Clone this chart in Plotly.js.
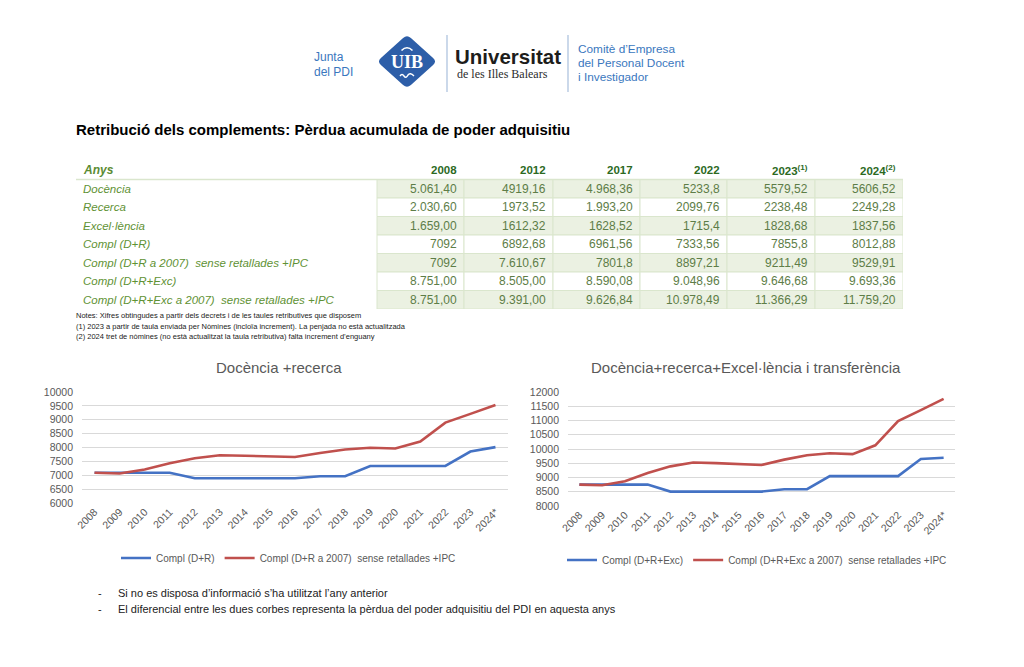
<!DOCTYPE html>
<html><head><meta charset="utf-8">
<script src="https://cdn.plot.ly/plotly-3.0.1.min.js"></script>
<style>html,body{margin:0;padding:0;background:#fff}#chart{width:1024px;height:667px}</style>
</head><body><div id="chart"></div>
<script>
// ---------- DATA ----------
const years = ['2008','2009','2010','2011','2012','2013','2014','2015','2016','2017','2018','2019','2020','2021','2022','2023','2024*'];
const complDR     = [7092,7092,7092,7092,6892.68,6892.68,6892.68,6892.68,6892.68,6961.56,6961.56,7333.56,7333.56,7333.56,7333.56,7855.8,8012.88];
const complDRIPC  = [7092,7065,7205,7430,7610.67,7720,7705,7670,7655,7801.8,7930,7990,7965,8215,8897.21,9211.49,9529.91];
const complDRE    = [8751,8751,8751,8751,8505,8505,8505,8505,8505,8590.08,8590.08,9048.96,9048.96,9048.96,9048.96,9646.68,9693.36];
const complDREIPC = [8751,8730,8870,9160,9391,9525,9505,9470,9440,9626.84,9780,9850,9820,10130,10978.49,11366.29,11759.2];

const tableYears = ['2008','2012','2017','2022','2023<sup>(1)</sup>','2024<sup>(2)</sup>'];
const rowLabels = ['Docència','Recerca','Excel·lència','Compl (D+R)','Compl (D+R a 2007)\u00a0 sense retallades +IPC','Compl (D+R+Exc)','Compl (D+R+Exc a 2007)\u00a0 sense retallades +IPC'];
const col2008 = ['5.061,40','2.030,60','1.659,00','7092','7092','8.751,00','8.751,00'];
const col2012 = ['4919,16','1973,52','1612,32','6892,68','7.610,67','8.505,00','9.391,00'];
const col2017 = ['4.968,36','1.993,20','1628,52','6961,56','7801,8','8.590,08','9.626,84'];
const col2022 = ['5233,8','2099,76','1715,4','7333,56','8897,21','9.048,96','10.978,49'];
const col2023 = ['5579,52','2238,48','1828,68','7855,8','9211,49','9.646,68','11.366,29'];
const col2024 = ['5606,52','2249,28','1837,56','8012,88','9529,91','9.693,36','11.759,20'];
const tableCols = [col2008, col2012, col2017, col2022, col2023, col2024];

const legendNames = ['Compl (D+R)','Compl (D+R a 2007)\u00a0 sense retallades +IPC','Compl (D+R+Exc)','Compl (D+R+Exc a 2007)\u00a0 sense retallades +IPC'];
const chartTitles = ['Docència +recerca','Docència+recerca+Excel·lència i transferència'];

// ---------- HELPERS ----------
const W = 1024, H = 667;
const px = x => x / W;
const py = y => 1 - y / H;
const FONT = 'Liberation Sans, Arial, sans-serif';
function ann(text, x, y, size, color, extra) {
  return Object.assign({text: text, x: px(x), y: py(y), xref: 'paper', yref: 'paper',
    xanchor: 'left', yanchor: 'middle', showarrow: false, align: 'left',
    font: {family: FONT, size: size, color: color}}, extra || {});
}
function diamondPath(cx, cy, a, b, t) {
  const V = [[cx, cy - b], [cx + a, cy], [cx, cy + b], [cx - a, cy]];
  let d = '';
  for (let i = 0; i < 4; i++) {
    const v = V[i], p = V[(i + 3) % 4], n = V[(i + 1) % 4];
    const s = [v[0] + t * (p[0] - v[0]), v[1] + t * (p[1] - v[1])];
    const e = [v[0] + t * (n[0] - v[0]), v[1] + t * (n[1] - v[1])];
    d += (i === 0 ? 'M' : 'L') + px(s[0]) + ',' + py(s[1]) + ' Q' + px(v[0]) + ',' + py(v[1]) + ' ' + px(e[0]) + ',' + py(e[1]) + ' ';
  }
  return d + 'Z';
}

// ---------- TABLE (drawn on its own hidden axes: x in px units, y in row units) ----------
const colEdges = [0, 301, 388, 477, 564, 651, 739, 827];
const GREEN_FILL = '#ebf1e2', GRID = '#dae6cd';
const tableShapes = [];
const tableAnns = [];
const tAnn = (text, x, y, xanchor, size, color) => ({text: text, x: x, y: y, xref: 'x3', yref: 'y3', xanchor: xanchor, yanchor: 'middle',
  showarrow: false, font: {family: FONT, size: size, color: color}});
tableAnns.push(tAnn('<b><i>Anys</i></b>', 5, 0.5, 'left', 12, '#5b8c33'));
tableYears.forEach((y, c) => tableAnns.push(tAnn('<b>' + y + '</b>', colEdges[c + 2] - 5, 0.5, 'right', 11.5, '#2d6a1f')));
rowLabels.forEach((lab, r) => {
  tableAnns.push(tAnn('<i>' + lab + '</i>', 5, r + 1.5, 'left', 11.5, '#5f9235'));
  tableCols.forEach((col, c) => {
    tableShapes.push({type: 'rect', xref: 'x3', yref: 'y3', x0: colEdges[c + 1], x1: colEdges[c + 2], y0: r + 1, y1: r + 2,
      fillcolor: r % 2 === 0 ? GREEN_FILL : '#ffffff', line: {color: GRID, width: 1}, layer: 'below'});
    tableAnns.push(tAnn(col[r], colEdges[c + 2] - 5, r + 1.5, 'right', 12, '#5d7d47'));
  });
});
tableShapes.push({type: 'line', xref: 'x3', yref: 'y3', x0: 0, x1: colEdges[7], y0: 1, y1: 1, line: {color: GRID, width: 1.5}, layer: 'below'});

// ---------- LINE CHARTS ----------
const BLUE = '#4472c4', RED = '#c0504d';
const traces = [
  {x: years, y: complDR, xaxis: 'x', yaxis: 'y', mode: 'lines', name: legendNames[0], legend: 'legend', line: {color: BLUE, width: 2.6}},
  {x: years, y: complDRIPC, xaxis: 'x', yaxis: 'y', mode: 'lines', name: legendNames[1], legend: 'legend', line: {color: RED, width: 2.6}},
  {x: years, y: complDRE, xaxis: 'x2', yaxis: 'y2', mode: 'lines', name: legendNames[2], legend: 'legend2', line: {color: BLUE, width: 2.6}},
  {x: years, y: complDREIPC, xaxis: 'x2', yaxis: 'y2', mode: 'lines', name: legendNames[3], legend: 'legend2', line: {color: RED, width: 2.6}}
];

const axFont = {family: FONT, size: 10.5, color: '#595959'};
const xBase = {type: 'category', range: [-0.5, 16.5], tickangle: -45, tickfont: axFont, showgrid: false, showline: false, zeroline: false, ticks: '', fixedrange: true};
const yBase = {dtick: 500, tickformat: 'd', gridcolor: '#d9d9d9', gridwidth: 1, zeroline: false, showline: false, tickfont: axFont, ticks: '', ticklabelstandoff: 8, fixedrange: true};

const annotations = [
  // header
  ann('Junta', 312, 57, 12, '#3a77be'),
  ann('del PDI', 312, 72, 12, '#3a77be'),
  ann('<b>Universitat</b>', 453, 57, 20.5, '#1d1d1b'),
  ann('de les Illes Balears', 455, 74, 12, '#2b2b2b', {font: {family: 'Liberation Serif, Times New Roman, serif', size: 12, color: '#2b2b2b'}}),
  ann('Comitè d’Empresa', 576, 49, 11.8, '#3a77be'),
  ann('del Personal Docent', 576, 63, 11.8, '#3a77be'),
  ann('i Investigador', 576, 77, 11.8, '#3a77be'),
  ann('<b>UIB</b>', 407, 62, 18, '#ffffff', {xanchor: 'center', font: {family: 'Liberation Serif, Times New Roman, serif', size: 18, color: '#ffffff'}}),
  // title
  ann('<b>Retribució dels complements: Pèrdua acumulada de poder adquisitiu</b>', 74, 129, 15, '#000000'),
  // notes
  ann('Notes: Xifres obtingudes a partir dels decrets i de les taules retributives que disposem', 74, 315, 7.5, '#222222'),
  ann('(1) 2023 a partir de taula enviada per Nòmines (incloïa increment). La penjada no està actualitzada', 74, 326, 7.5, '#222222'),
  ann('(2) 2024 tret de nòmines (no està actualitzat la taula retributiva) falta increment d’enguany', 74, 336, 7.5, '#222222'),
  // chart titles
  ann(chartTitles[0], 279, 367, 15, '#595959', {xanchor: 'center'}),
  ann(chartTitles[1], 746, 367, 15, '#595959', {xanchor: 'center'}),
  // bullets
  ann('-', 96, 593, 11, '#222222'),
  ann('Si no es disposa d’informació s’ha utilitzat l’any anterior', 116, 593, 11, '#222222'),
  ann('-', 96, 609, 11, '#222222'),
  ann('El diferencial entre les dues corbes representa la pèrdua del poder adquisitiu del PDI en aquesta anys', 116, 609, 11, '#222222')
].concat(tableAnns);

const shapes = [
  {type: 'path', xref: 'paper', yref: 'paper', path: diamondPath(407, 61.5, 30, 27, 0.13), fillcolor: '#2d5ea8', line: {width: 0}, layer: 'above'},
  {type: 'path', xref: 'paper', yref: 'paper', path: 'M' + px(401.5) + ',' + py(50.5) + ' Q' + px(407) + ',' + py(45) + ' ' + px(412.5) + ',' + py(50.5), line: {color: 'white', width: 1.6}, layer: 'above'},
  {type: 'path', xref: 'paper', yref: 'paper', path: 'M' + px(400) + ',' + py(76) + ' Q' + px(402) + ',' + py(73) + ' ' + px(404) + ',' + py(76) + ' Q' + px(406) + ',' + py(79) + ' ' + px(408) + ',' + py(75) + ' Q' + px(410) + ',' + py(72) + ' ' + px(414) + ',' + py(76), line: {color: 'white', width: 1.4}, layer: 'above'},
  {type: 'line', xref: 'paper', yref: 'paper', x0: px(447), x1: px(447), y0: py(35), y1: py(92), line: {color: '#a8bfdc', width: 1.2}},
  {type: 'line', xref: 'paper', yref: 'paper', x0: px(568), x1: px(568), y0: py(35), y1: py(92), line: {color: '#a8bfdc', width: 1.2}}
].concat(tableShapes);

const layout = {
  width: W, height: H, autosize: false,
  margin: {l: 0, r: 0, t: 0, b: 0, pad: 0},
  paper_bgcolor: '#ffffff', plot_bgcolor: 'rgba(0,0,0,0)',
  font: {family: FONT, color: '#595959'},
  showlegend: true,
  xaxis: Object.assign({}, xBase, {domain: [px(82), px(508)], anchor: 'y'}),
  yaxis: Object.assign({}, yBase, {domain: [py(503), py(392)], anchor: 'x', range: [6000, 10000]}),
  xaxis2: Object.assign({}, xBase, {domain: [px(568), px(955)], anchor: 'y2'}),
  yaxis2: Object.assign({}, yBase, {domain: [py(506), py(392)], anchor: 'x2', range: [8000, 12000]}),
  xaxis3: {domain: [px(76), px(903)], anchor: 'y3', range: [0, 827], visible: false, fixedrange: true},
  yaxis3: {domain: [py(309), py(161)], anchor: 'x3', range: [8, 0], visible: false, fixedrange: true},
  legend: {orientation: 'h', x: px(116), xanchor: 'left', y: py(558), yanchor: 'middle', font: {family: FONT, size: 10, color: '#595959'}, bgcolor: 'rgba(0,0,0,0)', itemwidth: 30},
  legend2: {orientation: 'h', x: px(562), xanchor: 'left', y: py(560), yanchor: 'middle', font: {family: FONT, size: 10, color: '#595959'}, bgcolor: 'rgba(0,0,0,0)', itemwidth: 30},
  annotations: annotations,
  shapes: shapes
};

Plotly.newPlot('chart', traces, layout, {displayModeBar: false, staticPlot: true});
</script></body></html>
